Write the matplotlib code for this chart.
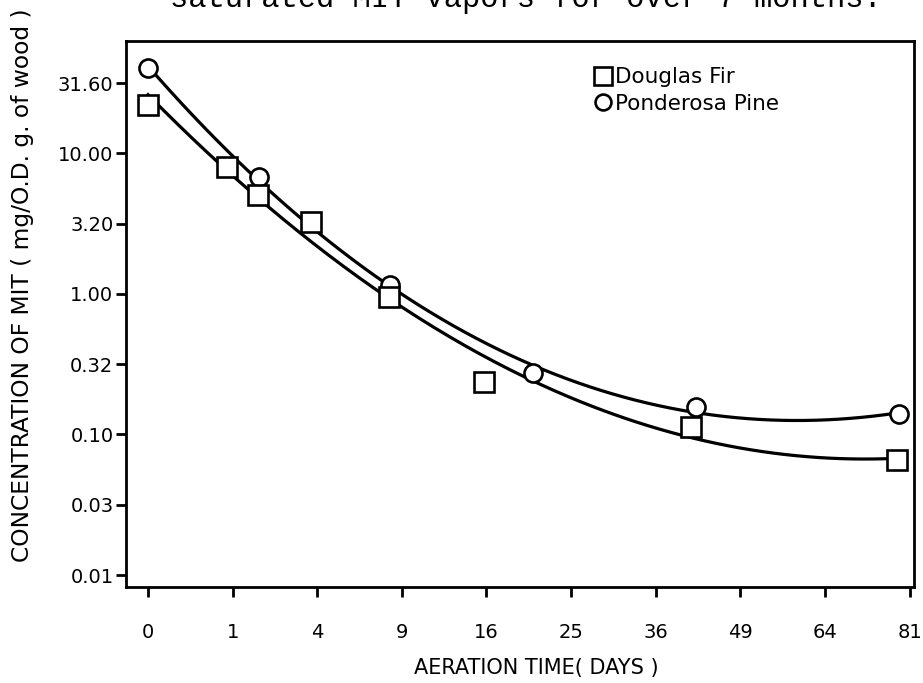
import numpy as np
import matplotlib.pyplot as plt

# aeration time in days, concentration in mg / O.D. g of wood
df_days = [0, 0.87, 1.7, 3.7, 8.1, 15.8, 41.2, 78.3]
df_conc = [22.1, 8.0, 5.05, 3.24, 0.95, 0.236, 0.113, 0.066]
pp_days = [0, 1.72, 8.2, 20.7, 42.0, 78.8]
pp_conc = [40.4, 6.78, 1.16, 0.273, 0.157, 0.140]

x_ticks = [0, 1, 4, 9, 16, 25, 36, 49, 64, 81]
y_ticks = [0.01, 0.0316, 0.1, 0.316, 1.0, 3.16, 10.0, 31.6]
y_labels = ['0.01', '0.03', '0.10', '0.32', '1.00', '3.20', '10.00', '31.60']

plt.rcParams['font.family'] = ['DejaVu Sans']

fig = plt.figure(figsize=(9.23, 6.83), dpi=100)
ax = fig.add_axes([0.1365, 0.1406, 0.8535, 0.7994])


def fit_curve(days, conc, deg):
    s = np.sqrt(days)
    coef = np.polyfit(s, np.log10(conc), deg)
    ss = np.linspace(0, s.max(), 200)
    return ss, 10 ** np.polyval(coef, ss)


for days, conc, deg in [(df_days, df_conc, 2), (pp_days, pp_conc, 3)]:
    ss, cc = fit_curve(days, conc, deg)
    ax.plot(ss, cc, color='black', lw=2.3, zorder=2)

ax.plot(np.sqrt(pp_days), pp_conc, 'o', ms=13, mfc='white', mec='black',
        mew=1.9, ls='none', zorder=3, label='Ponderosa Pine')
ax.plot(np.sqrt(df_days), df_conc, 's', ms=14.5, mfc='white', mec='black',
        mew=1.9, ls='none', zorder=4, label='Douglas Fir')

ax.set_yscale('log')
ax.set_ylim(10 ** -2.085, 10 ** 1.80)
ax.set_xlim(-0.26, 9.05)

ax.set_xticks(np.sqrt(x_ticks))
ax.set_xticklabels([str(t) for t in x_ticks])
ax.set_yticks(y_ticks)
ax.set_yticklabels(y_labels)
ax.minorticks_off()
ax.tick_params(axis='both', direction='out', length=7, width=2,
               labelsize=14, top=False, right=False)
ax.tick_params(axis='x', pad=19)
ax.tick_params(axis='y', pad=2)
for sp in ax.spines.values():
    sp.set_linewidth(2)

h, l = ax.get_legend_handles_labels()
ax.legend(h[::-1], l[::-1], loc='upper left', bbox_to_anchor=(0.594, 0.952),
          frameon=False, fontsize=15.5, handlelength=0.8, handletextpad=0.2,
          labelspacing=0.3, borderpad=0, borderaxespad=0, markerscale=0.88)

fig.text(536 / 923, 1 - 668 / 683, 'AERATION TIME( DAYS )', ha='center',
         va='center', fontsize=15)
fig.text(0.024, 1 - 285 / 683, 'CONCENTRATION OF MIT ( mg/O.D. g. of wood )',
         rotation=90, ha='center', va='center', fontsize=16.8)
fig.text(526 / 923, 1 - 7 / 683, 'saturated MIT vapors for over 7 months.',
         ha='center', va='baseline', fontsize=22, family='Liberation Mono')

fig.savefig('out.png', dpi=100)
